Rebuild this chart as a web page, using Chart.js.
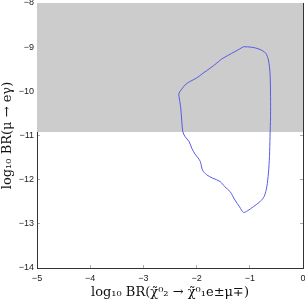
<!DOCTYPE html>
<html><head><meta charset="utf-8">
<script src="https://cdn.jsdelivr.net/npm/chart.js@4/dist/chart.umd.min.js"></script>
<style>html,body{margin:0;padding:0;background:#fff}#wrap{width:305px;height:300px}</style>
</head><body><div id="wrap"><canvas id="c" width="305" height="300"></canvas></div>
<script>
const xTicks = [-5, -4, -3, -2, -1, 0];
const yTicks = [-14, -13, -12, -11, -10, -9, -8];
const excludedTop = -8;
const excludedLimit = -10.92;
const curveX = [-1.12,-0.97,-0.81,-0.70,-0.65,-0.62,-0.61,-0.61,-0.62,-0.63,-0.65,-0.68,-0.73,-0.81,-0.93,-1.05,-1.12,-1.19,-1.28,-1.37,-1.47,-1.56,-1.69,-1.81,-1.89,-1.93,-1.97,-2.03,-2.09,-2.14,-2.22,-2.26,-2.28,-2.30,-2.33,-2.33,-2.28,-2.22,-2.13,-2.00,-1.88,-1.75,-1.62,-1.53,-1.40,-1.28,-1.19,-1.12];
const curveY = [-8.99,-9.00,-9.05,-9.14,-9.29,-9.59,-10.12,-10.57,-11.02,-11.48,-11.85,-12.16,-12.38,-12.50,-12.61,-12.71,-12.74,-12.62,-12.46,-12.27,-12.16,-12.04,-11.97,-11.89,-11.78,-11.59,-11.51,-11.42,-11.29,-11.14,-11.02,-10.91,-10.65,-10.35,-10.12,-10.04,-9.95,-9.86,-9.78,-9.70,-9.59,-9.48,-9.36,-9.27,-9.18,-9.10,-9.04,-8.99];

const curve = curveX.map((x, i) => ({x, y: curveY[i]}));
const band = [{x: xTicks[0], y: excludedTop}, {x: xTicks[xTicks.length-1], y: excludedTop}];
const fmt = v => String(v).replace('-', '\u2212');
const tickFont = {family: 'Liberation Sans', size: 9};
const frame = {display: true, color: '#333', width: 1};
const gridIn = {drawOnChartArea: false, drawTicks: true, tickLength: -3, color: '#aaa'};
const noPad = s => { s.paddingLeft = 0; s.paddingRight = 0; s.paddingTop = 0; s.paddingBottom = 0; };

new Chart(document.getElementById('c'), {
  type: 'scatter',
  data: {datasets: [
    {data: band, showLine: true, borderWidth: 0, pointRadius: 0, backgroundColor: '#cccccc', fill: {value: excludedLimit}, order: 2},
    {data: curve, showLine: true, borderColor: '#5a5ae6', borderWidth: 1, pointRadius: 0, tension: 0.3, fill: false, order: 1}
  ]},
  options: {
    responsive: false, animation: false,
    layout: {padding: {top: 3, right: 2, left: 0, bottom: 0}},
    plugins: {legend: {display: false}, tooltip: {enabled: false}},
    scales: {
      x: {type: 'linear', position: 'bottom', min: -5, max: 0,
        afterBuildTicks: s => { s.ticks = xTicks.map(v => ({value: v})); },
        afterFit: s => { s.height = 32; noPad(s); },
        border: frame, grid: gridIn,
        ticks: {font: tickFont, color: '#222', padding: 8, maxRotation: 0, callback: fmt},
        title: {display: true, text: 'log\u2081\u2080 BR(\u03c7\u0303\u2070\u2082 \u2192 \u03c7\u0303\u2070\u2081e\u00b1\u03bc\u2213)', font: {family: 'DejaVu Serif', size: 13}, color: '#111', padding: 0}
      },
      y: {type: 'linear', position: 'left', min: -14, max: -8,
        afterBuildTicks: s => { s.ticks = yTicks.map(v => ({value: v})); },
        afterFit: s => { s.width = 37; noPad(s); },
        border: frame, grid: gridIn,
        ticks: {font: tickFont, color: '#222', padding: 6, callback: fmt},
        title: {display: true, text: 'log\u2081\u2080 BR(\u03bc \u2192 e\u03b3)', font: {family: 'DejaVu Serif', size: 13}, color: '#111', padding: 0}
      },
      x2: {type: 'linear', position: 'top', min: -5, max: 0,
        afterBuildTicks: s => { s.ticks = xTicks.map(v => ({value: v})); },
        afterFit: s => { s.height = 0; noPad(s); },
        border: frame, grid: gridIn, ticks: {display: false}
      },
      y2: {type: 'linear', position: 'right', min: -14, max: -8,
        afterBuildTicks: s => { s.ticks = yTicks.map(v => ({value: v})); },
        afterFit: s => { s.width = 0; noPad(s); },
        border: frame, grid: gridIn, ticks: {display: false}
      }
    }
  }
});
</script></body></html>
